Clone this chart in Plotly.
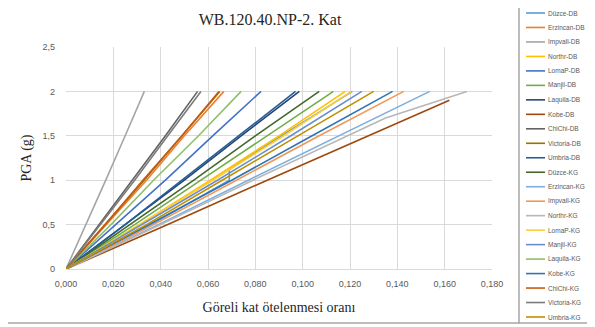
import plotly.graph_objects as go

# Series (Excel default palette order)
series_names = ["Düzce-DB", "Erzincan-DB", "Impvall-DB", "Northr-DB", "LomaP-DB", "Manjil-DB",
                "Laquila-DB", "Kobe-DB", "ChiChi-DB", "Victoria-DB", "Umbria-DB", "Düzce-KG",
                "Erzincan-KG", "Impvall-KG", "Northr-KG", "LomaP-KG", "Manjil-KG", "Laquila-KG",
                "Kobe-KG", "ChiChi-KG", "Victoria-KG", "Umbria-KG"]
series_colors = ["#5B9BD5", "#ED7D31", "#A5A5A5", "#FFC000", "#4472C4", "#70AD47",
                 "#264478", "#9E480E", "#636363", "#997300", "#255E91", "#43682B",
                 "#7CAFDD", "#F1975A", "#B7B7B7", "#FFCD33", "#698ED0", "#8CC168",
                 "#2E75B6", "#C55A11", "#7B7B7B", "#BF9000"]

# PGA levels (g) used by most series
pga_levels = [0, 0.5, 1.0, 1.5, 2.0]
# series with their own PGA levels
pga_special = {
    "Düzce-DB": [0, 0.5, 1.0, 1.12, 1.5, 2.0],
    "Kobe-DB": [0, 0.5, 1.0, 1.5, 1.9],
    "Northr-KG": [0, 0.5, 1.0, 1.5, 1.7, 2.0],
}

# inter-storey drift ratio at each PGA level
drift_values = [
    [0, 0.036, 0.069, 0.069, 0.091, 0.121],   # Düzce-DB
    [0, 0.017, 0.034, 0.050, 0.0667],         # Erzincan-DB
    [0, 0.0085, 0.0168, 0.0250, 0.0331],      # Impvall-DB
    [0, 0.031, 0.061, 0.090, 0.118],          # Northr-DB
    [0, 0.021, 0.042, 0.062, 0.0824],         # LomaP-DB
    [0, 0.029, 0.057, 0.085, 0.113],          # Manjil-DB
    [0, 0.025, 0.050, 0.074, 0.0986],         # Laquila-DB
    [0, 0.043, 0.085, 0.128, 0.162],          # Kobe-DB
    [0, 0.014, 0.028, 0.042, 0.0556],         # ChiChi-DB
    [0, 0.0165, 0.033, 0.049, 0.065],         # Victoria-DB
    [0, 0.025, 0.049, 0.073, 0.097],          # Umbria-DB
    [0, 0.027, 0.054, 0.080, 0.107],          # Düzce-KG
    [0, 0.039, 0.077, 0.115, 0.1537],         # Erzincan-KG
    [0, 0.037, 0.072, 0.107, 0.1427],         # Impvall-KG
    [0, 0.040, 0.079, 0.119, 0.135, 0.1694],  # Northr-KG
    [0, 0.031, 0.062, 0.092, 0.1206],         # LomaP-KG
    [0, 0.032, 0.064, 0.095, 0.125],          # Manjil-KG
    [0, 0.019, 0.037, 0.056, 0.074],          # Laquila-KG
    [0, 0.035, 0.070, 0.104, 0.138],          # Kobe-KG
    [0, 0.0165, 0.0325, 0.049, 0.0646],       # ChiChi-KG
    [0, 0.0145, 0.029, 0.043, 0.057],         # Victoria-KG
    [0, 0.034, 0.066, 0.098, 0.130],          # Umbria-KG
]

# the page body adds an 8px margin, so the figure is drawn 8px smaller
OFF = 8
W, H = 595 - OFF, 327 - OFF
L, T = 66 - OFF, 47 - OFF
R = W - (492 - OFF)
B = H - (269 - OFF)
pw, ph = W - L - R, H - T - B


def px_to_paper(x, y):
    # reference screenshot pixel -> paper coordinates
    return (x - OFF - L) / pw, (H - B - (y - OFF)) / ph


fig = go.Figure()
for name, color, drift in zip(series_names, series_colors, drift_values):
    fig.add_trace(go.Scatter(
        x=drift, y=pga_special.get(name, pga_levels), name=name, mode="lines",
        line=dict(color=color, width=1.6), showlegend=False,
    ))

# manual legend (plotly's min row height is too tall for 22 rows here)
shapes = []
annotations = []
step = (317 - 13) / (len(series_names) - 1)
for i, (name, color) in enumerate(zip(series_names, series_colors)):
    yy = 13 + i * step
    x0, y0 = px_to_paper(526, yy)
    x1, _ = px_to_paper(545, yy)
    shapes.append(dict(type="line", xref="paper", yref="paper", x0=x0, x1=x1, y0=y0, y1=y0,
                       line=dict(color=color, width=1.6)))
    tx, _ = px_to_paper(546, yy)
    annotations.append(dict(text=name, xref="paper", yref="paper", x=tx, y=y0,
                            xanchor="left", yanchor="middle", showarrow=False,
                            font=dict(family="Liberation Sans", size=6.5, color="#595959")))

# chart frame and legend divider
fx0, fy0 = px_to_paper(6, 2)
fx1, fy1 = px_to_paper(519, 323)
shapes.append(dict(type="rect", xref="paper", yref="paper", x0=fx0, y0=fy1, x1=fx1, y1=fy0,
                   line=dict(color="#A6A6A6", width=1.5)))
ex, _ = px_to_paper(594, 0)
shapes.append(dict(type="line", xref="paper", yref="paper", x0=fx1, x1=ex, y0=fy1, y1=fy1,
                   line=dict(color="#A6A6A6", width=1.5)))

fig.update_layout(
    width=W, height=H,
    margin=dict(l=L, r=R, t=T, b=B, autoexpand=False),
    paper_bgcolor="white", plot_bgcolor="white",
    separators=",.",
    title=dict(text="WB.120.40.NP-2. Kat", x=(270 - OFF) / W, xanchor="center",
               y=1 - (19 - OFF) / H, yanchor="middle",
               font=dict(family="Liberation Serif", size=16, color="#262626")),
    shapes=shapes,
    annotations=annotations,
)
fig.update_xaxes(
    range=[0, 0.18], dtick=0.02, tickformat=".3f",
    showgrid=True, gridcolor="#D9D9D9", gridwidth=1, zeroline=False,
    showline=True, linecolor="#D9D9D9", mirror=False,
    tickfont=dict(family="Liberation Sans", size=9, color="#595959"),
    ticklabelstandoff=6,
    title=dict(text="Göreli kat ötelenmesi oranı", standoff=14,
               font=dict(family="Liberation Serif", size=14, color="#262626")),
)
fig.update_yaxes(
    range=[0, 2.5], dtick=0.5,
    showgrid=True, gridcolor="#D9D9D9", gridwidth=1, zeroline=False,
    tickfont=dict(family="Liberation Sans", size=9, color="#595959"),
    ticklabelstandoff=10,
    title=dict(text="PGA (g)", standoff=7,
               font=dict(family="Liberation Serif", size=14, color="#262626")),
)

fig.write_html("out.html")
